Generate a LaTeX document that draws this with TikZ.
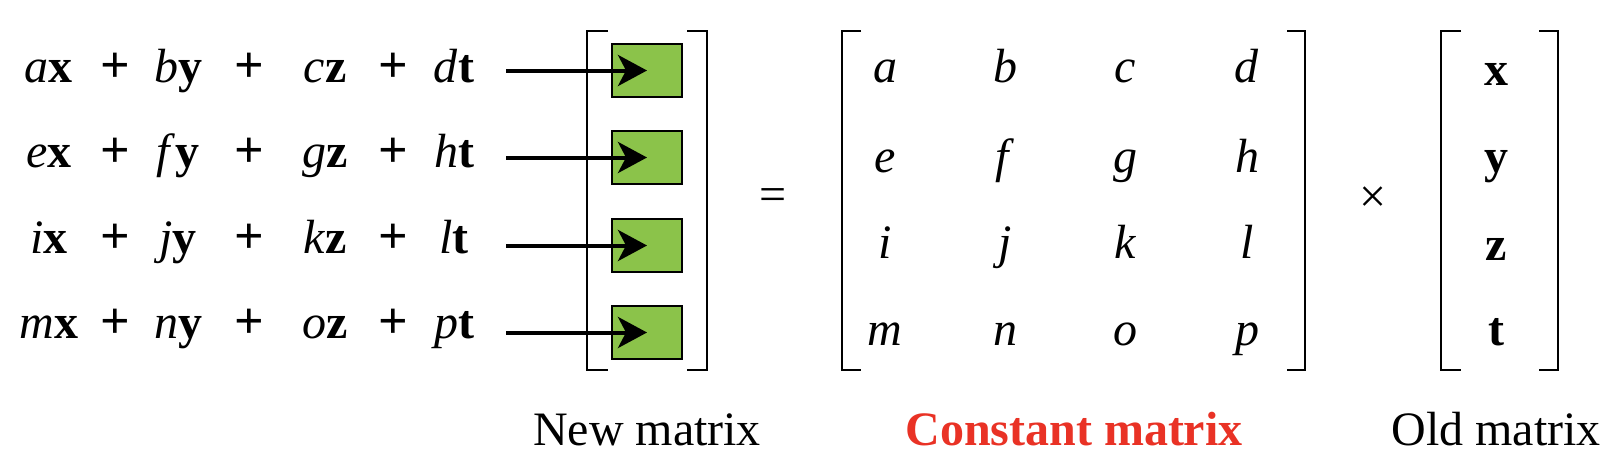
\documentclass[tikz,border=0pt]{standalone}
\usepackage{fontspec}
\setmainfont{Liberation Serif}
\usepackage{xcolor}
\usetikzlibrary{arrows.meta}
\definecolor{boxgreen}{RGB}{139,195,74}
\definecolor{constred}{RGB}{233,50,37}

\begin{document}
\begin{tikzpicture}[x=0.5pt,y=-0.5pt,
    term/.style={anchor=base,inner sep=0pt,font=\fontsize{24}{28}\selectfont},
    plus/.style={term,font=\fontsize{26}{28}\selectfont\bfseries},
    newbox/.style={draw,line width=1.2pt,fill=boxgreen,minimum width=35pt,minimum height=26.5pt,inner sep=0pt},
    brak/.style={line width=1.3pt},
    feed/.style={line width=2pt,-{Stealth[length=14.5pt,width=15.5pt,inset=4pt]}}]

\useasboundingbox (0,0) rectangle (1612,466);

% linear equations
\node[term] (r1c1) at (49,82) {\textit{a}\textbf{x}};
\node[plus] (r1s1) at (115,82) {+};
\node[term] (r1c2) at (178,82) {\textit{b}\textbf{y}};
\node[plus] (r1s2) at (249,82) {+};
\node[term] (r1c3) at (325,82) {\textit{c}\textbf{z}};
\node[plus] (r1s3) at (393,82) {+};
\node[term] (r1c4) at (454,82) {\textit{d}\textbf{t}};

\node[term] (r2c1) at (49,167) {\textit{e}\textbf{x}};
\node[plus] (r2s1) at (115,167) {+};
\node[term] (r2c2) at (178,167) {\textit{f}\textbf{y}};
\node[plus] (r2s2) at (249,167) {+};
\node[term] (r2c3) at (325,167) {\textit{g}\textbf{z}};
\node[plus] (r2s3) at (393,167) {+};
\node[term] (r2c4) at (454,167) {\textit{h}\textbf{t}};

\node[term] (r3c1) at (49,253) {\textit{i}\textbf{x}};
\node[plus] (r3s1) at (115,253) {+};
\node[term] (r3c2) at (178,253) {\textit{j}\textbf{y}};
\node[plus] (r3s2) at (249,253) {+};
\node[term] (r3c3) at (325,253) {\textit{k}\textbf{z}};
\node[plus] (r3s3) at (393,253) {+};
\node[term] (r3c4) at (454,253) {\textit{l}\textbf{t}};

\node[term] (r4c1) at (49,338) {\textit{m}\textbf{x}};
\node[plus] (r4s1) at (115,338) {+};
\node[term] (r4c2) at (178,338) {\textit{n}\textbf{y}};
\node[plus] (r4s2) at (249,338) {+};
\node[term] (r4c3) at (325,338) {\textit{o}\textbf{z}};
\node[plus] (r4s3) at (393,338) {+};
\node[term] (r4c4) at (454,338) {\textit{p}\textbf{t}};

% new matrix
\draw[brak] (608,31)--(587,31)--(587,370)--(608,370);
\draw[brak] (687,31)--(707,31)--(707,370)--(687,370);
\node[newbox] (g1) at (647,70.5) {};
\node[newbox] (g2) at (647,157.5) {};
\node[newbox] (g3) at (647,245.5) {};
\node[newbox] (g4) at (647,332.5) {};
\coordinate (s1) at (506,70.5);
\coordinate (s2) at (506,157.5);
\coordinate (s3) at (506,245.5);
\coordinate (s4) at (506,332.5);
\draw[feed] (s1)--(g1.center);
\draw[feed] (s2)--(g2.center);
\draw[feed] (s3)--(g3.center);
\draw[feed] (s4)--(g4.center);

\node[term,anchor=center] (equal) at (773,200) {=};

% constant matrix
\draw[brak] (861,31)--(842,31)--(842,370)--(861,370);
\draw[brak] (1287,31)--(1305,31)--(1305,370)--(1287,370);
\node[term] (k11) at (885,83) {\textit{a}};
\node[term] (k12) at (1005,83) {\textit{b}};
\node[term] (k13) at (1125,83) {\textit{c}};
\node[term] (k14) at (1247,83) {\textit{d}};
\node[term] (k21) at (885,172) {\textit{e}};
\node[term] (k22) at (1005,172) {\textit{f}};
\node[term] (k23) at (1125,172) {\textit{g}};
\node[term] (k24) at (1247,172) {\textit{h}};
\node[term] (k31) at (885,258) {\textit{i}};
\node[term] (k32) at (1005,258) {\textit{j}};
\node[term] (k33) at (1125,258) {\textit{k}};
\node[term] (k34) at (1247,258) {\textit{l}};
\node[term] (k41) at (885,345) {\textit{m}};
\node[term] (k42) at (1005,345) {\textit{n}};
\node[term] (k43) at (1125,345) {\textit{o}};
\node[term] (k44) at (1247,345) {\textit{p}};

\node[term,anchor=center] (times) at (1373,200) {×};

% old matrix
\draw[brak] (1461,31)--(1441,31)--(1441,370)--(1461,370);
\draw[brak] (1539,31)--(1558,31)--(1558,370)--(1539,370);
\node[term] (o1) at (1496,85) {\textbf{x}};
\node[term] (o2) at (1496,172) {\textbf{y}};
\node[term] (o3) at (1496,260) {\textbf{z}};
\node[term] (o4) at (1496,345) {\textbf{t}};

% labels
\node[term] (newlbl) at (647,445) {New matrix};
\node[term,text=constred] (constlbl) at (1074,445) {\textbf{Constant matrix}};
\node[term] (oldlbl) at (1496,445) {Old matrix};
\end{tikzpicture}
\end{document}
